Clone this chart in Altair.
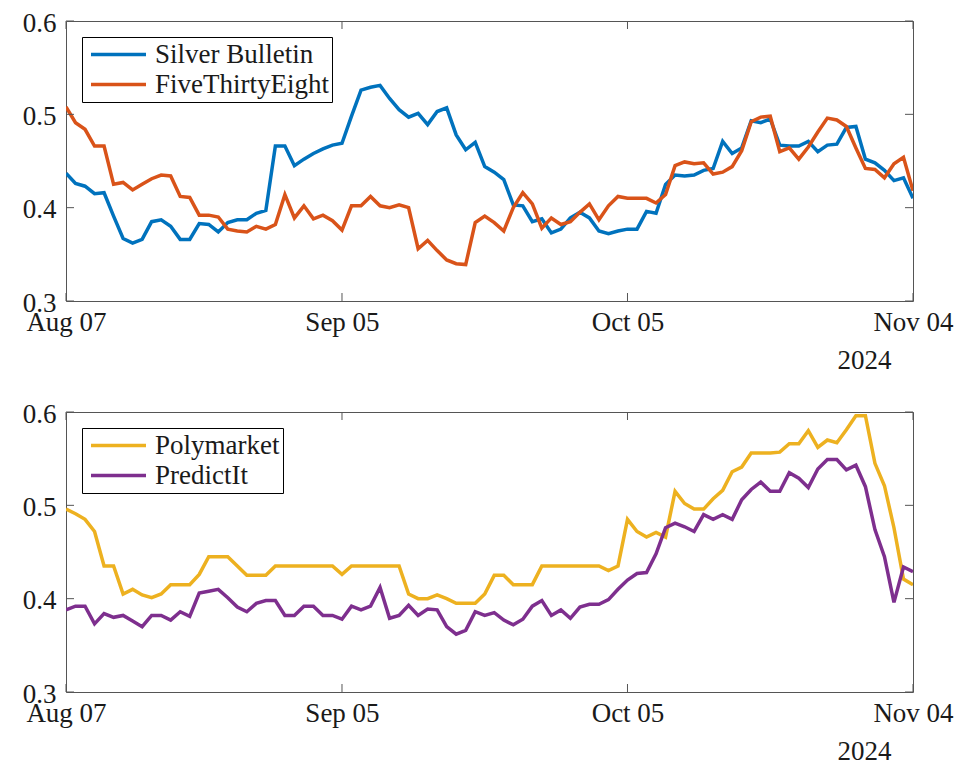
import altair as alt
import pandas as pd

# ---------------- data ----------------
START_DATE = "2024-08-07"
N_DAYS = 90  # Aug 07 .. Nov 04, 2024, daily

silver_bulletin = [
    0.437, 0.426, 0.423, 0.415, 0.416, 0.391, 0.367, 0.362, 0.366, 0.385,
    0.387, 0.380, 0.366, 0.366, 0.383, 0.382, 0.374, 0.384, 0.387, 0.387,
    0.394, 0.397, 0.466, 0.466, 0.445, 0.452, 0.458, 0.463, 0.467, 0.469,
    0.498, 0.526, 0.529, 0.531, 0.517, 0.505, 0.497, 0.501, 0.489, 0.503,
    0.507, 0.478, 0.462, 0.470, 0.444, 0.438, 0.430, 0.403, 0.402, 0.385,
    0.388, 0.373, 0.377, 0.389, 0.395, 0.389, 0.375, 0.372, 0.375, 0.377,
    0.377, 0.396, 0.394, 0.425, 0.435, 0.434, 0.435, 0.440, 0.442, 0.471,
    0.458, 0.464, 0.493, 0.491, 0.495, 0.467, 0.466, 0.466, 0.471, 0.460,
    0.467, 0.468, 0.486, 0.487, 0.452, 0.448, 0.440, 0.429, 0.432, 0.410,
]
five_thirty_eight = [
    0.508, 0.491, 0.484, 0.466, 0.466, 0.425, 0.427, 0.419, 0.425, 0.431,
    0.435, 0.434, 0.412, 0.411, 0.392, 0.392, 0.390, 0.377, 0.375, 0.374,
    0.380, 0.377, 0.382, 0.414, 0.389, 0.402, 0.388, 0.392, 0.386, 0.376,
    0.402, 0.402, 0.412, 0.402, 0.400, 0.403, 0.400, 0.356, 0.365, 0.354,
    0.344, 0.340, 0.339, 0.384, 0.391, 0.384, 0.375, 0.400, 0.416, 0.404,
    0.378, 0.389, 0.382, 0.385, 0.395, 0.404, 0.387, 0.402, 0.412, 0.410,
    0.410, 0.410, 0.405, 0.414, 0.445, 0.449, 0.447, 0.448, 0.436, 0.438,
    0.444, 0.461, 0.492, 0.497, 0.498, 0.460, 0.464, 0.452, 0.465, 0.481,
    0.496, 0.494, 0.487, 0.464, 0.442, 0.441, 0.432, 0.447, 0.454, 0.418,
]
polymarket = [
    0.496, 0.491, 0.485, 0.472, 0.435, 0.435, 0.405, 0.410, 0.404, 0.401,
    0.405, 0.415, 0.415, 0.415, 0.426, 0.445, 0.445, 0.445, 0.435, 0.425,
    0.425, 0.425, 0.435, 0.435, 0.435, 0.435, 0.435, 0.435, 0.435, 0.426,
    0.435, 0.435, 0.435, 0.435, 0.435, 0.435, 0.405, 0.400, 0.400, 0.404,
    0.400, 0.395, 0.395, 0.395, 0.405, 0.425, 0.425, 0.415, 0.415, 0.415,
    0.435, 0.435, 0.435, 0.435, 0.435, 0.435, 0.435, 0.430, 0.435, 0.485,
    0.472, 0.466, 0.471, 0.466, 0.515, 0.502, 0.496, 0.496, 0.507, 0.516,
    0.536, 0.541, 0.556, 0.556, 0.556, 0.557, 0.566, 0.566, 0.580, 0.562,
    0.570, 0.567, 0.581, 0.596, 0.596, 0.545, 0.521, 0.476, 0.421, 0.415,
]
predictit = [
    0.388, 0.392, 0.392, 0.373, 0.384, 0.380, 0.382, 0.376, 0.370, 0.382,
    0.382, 0.377, 0.386, 0.381, 0.406, 0.408, 0.410, 0.401, 0.391, 0.386,
    0.395, 0.398, 0.398, 0.382, 0.382, 0.392, 0.392, 0.382, 0.382, 0.378,
    0.392, 0.388, 0.392, 0.412, 0.379, 0.382, 0.393, 0.382, 0.389, 0.388,
    0.370, 0.362, 0.366, 0.386, 0.382, 0.385, 0.377, 0.372, 0.378, 0.392,
    0.398, 0.382, 0.388, 0.379, 0.391, 0.394, 0.394, 0.399, 0.410, 0.420,
    0.427, 0.428, 0.448, 0.476, 0.481, 0.477, 0.472, 0.490, 0.485, 0.490,
    0.485, 0.506, 0.517, 0.525, 0.515, 0.515, 0.535, 0.529, 0.519, 0.539,
    0.549, 0.549, 0.538, 0.543, 0.520, 0.474, 0.445, 0.396, 0.434, 0.429,
]

top_series = ["Silver Bulletin", "FiveThirtyEight"]
top_colors = ["#0072BD", "#D95319"]
bottom_series = ["Polymarket", "PredictIt"]
bottom_colors = ["#EDB120", "#7E2F8E"]

x_tick_dates = ["2024-08-07", "2024-09-05", "2024-10-05", "2024-11-04"]
y_tick_values = [0.3, 0.4, 0.5, 0.6]
year_label = "2024"

# ---------------- styling ----------------
FONT = "Liberation Serif"
FS = 27
TXT = "#1a1a1a"
BOX = "#555555"
W, H = 847, 280
TICK = 8

dates = list(pd.date_range(START_DATE, periods=N_DAYS, freq="D").strftime("%Y-%m-%dT00:00:00"))


def to_dt(s):
    y, m, d = (int(v) for v in s.split("-"))
    return alt.DateTime(year=y, month=m, date=d)


x_domain = [to_dt(x_tick_dates[0]), to_dt(x_tick_dates[-1])]
x_values = [to_dt(s) for s in x_tick_dates]
xtick_df = pd.DataFrame({"date": [s + "T00:00:00" for s in x_tick_dates]})
ytick_df = pd.DataFrame({"value": y_tick_values})


def panel(names, colors, series_a, series_b):
    df = pd.DataFrame({
        "date": dates + dates,
        "value": series_a + series_b,
        "series": [names[0]] * N_DAYS + [names[1]] * N_DAYS,
    })
    x_enc = alt.X(
        "date:T",
        scale=alt.Scale(domain=x_domain, nice=False),
        axis=alt.Axis(
            values=x_values, format="%b %d", labelFont=FONT, labelFontSize=FS,
            labelColor=TXT, labelPadding=8, labelFlush=False, labelOverlap=False,
            ticks=False, tickSize=0, domain=False, grid=False,
            title=year_label, titleFont=FONT, titleFontSize=FS, titleFontWeight="normal",
            titleColor=TXT, titleX=825, titleY=67, titleAlign="right",
            titleBaseline="alphabetic",
        ),
    )
    y_enc = alt.Y(
        "value:Q",
        scale=alt.Scale(domain=[0.3, 0.6], nice=False, zero=False),
        axis=alt.Axis(
            values=y_tick_values, format=".1f", labelFont=FONT, labelFontSize=FS,
            labelColor=TXT, labelPadding=10, labelOffset=2, labelFlush=False,
            ticks=False, tickSize=0, domain=False, grid=False, title=None,
        ),
    )
    lines = alt.Chart(df).mark_line(strokeWidth=3.5, clip=True).encode(
        x=x_enc,
        y=y_enc,
        color=alt.Color(
            "series:N",
            scale=alt.Scale(domain=names, range=colors),
            legend=alt.Legend(
                title=None, orient="none", legendX=16, legendY=16,
                symbolType="stroke", symbolSize=3025, symbolStrokeWidth=3.5,
                clipHeight=29, rowPadding=1, padding=3, symbolOffset=4,
                labelOffset=7, labelFont=FONT, labelFontSize=FS, labelColor=TXT,
                strokeColor="#000000", fillColor="#ffffff", labelLimit=400,
            ),
        ),
        detail="series:N",
    )
    tb = alt.Chart(xtick_df).mark_rule(color=BOX, strokeWidth=1).encode(
        x="date:T", y=alt.value(H), y2=alt.value(H - TICK))
    tt = alt.Chart(xtick_df).mark_rule(color=BOX, strokeWidth=1).encode(
        x="date:T", y=alt.value(0), y2=alt.value(TICK))
    yl = alt.Chart(ytick_df).mark_rule(color=BOX, strokeWidth=1).encode(
        y="value:Q", x=alt.value(0), x2=alt.value(TICK))
    yr = alt.Chart(ytick_df).mark_rule(color=BOX, strokeWidth=1).encode(
        y="value:Q", x=alt.value(W), x2=alt.value(W - TICK))
    return alt.layer(lines, tb, tt, yl, yr).properties(width=W, height=H)


top = panel(top_series, top_colors, silver_bulletin, five_thirty_eight)
bottom = panel(bottom_series, bottom_colors, polymarket, predictit)

chart = (
    alt.vconcat(top, bottom, spacing=25)
    .resolve_scale(color="independent")
    .resolve_legend(color="independent")
    .properties(padding={"left": 13, "top": 0, "right": 5, "bottom": 5}, background="white")
    .configure_view(stroke=BOX, strokeWidth=1)
)

chart.save("out.html", embed_options={"renderer": "svg", "actions": False})
